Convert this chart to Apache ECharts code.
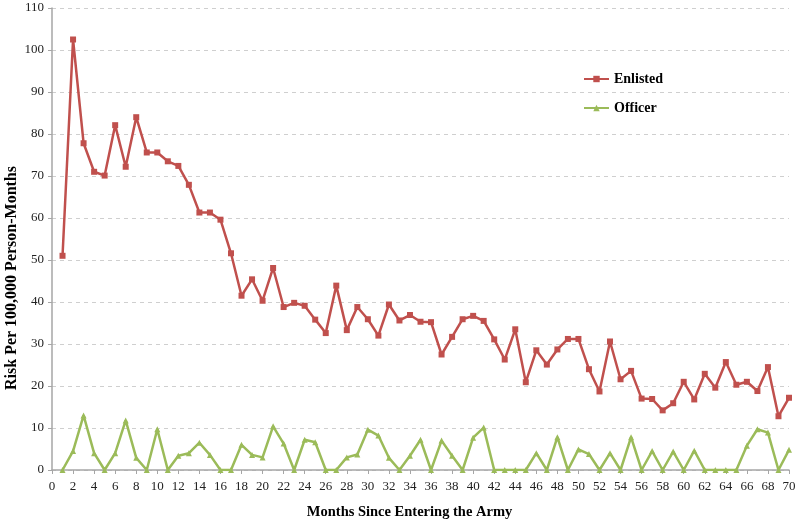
<!DOCTYPE html>
<html>
<head>
<meta charset="utf-8">
<script src="https://cdn.jsdelivr.net/npm/echarts@6/dist/echarts.min.js"></script>
<style>html,body{margin:0;padding:0;background:#fff;}#c{width:800px;height:526px;}</style>
</head>
<body>
<div id="c"></div>
<script>
var months = [];
for (var m = 1; m <= 70; m++) months.push(m);
var enlisted = [51, 102.5, 77.8, 71.0, 70.1, 82.1, 72.2, 84.0, 75.6, 75.6,
  73.5, 72.4, 67.9, 61.3, 61.3, 59.6, 51.6, 41.5, 45.4, 40.3,
  48.1, 38.8, 39.8, 39.1, 35.8, 32.6, 43.9, 33.3, 38.8, 35.9,
  32.0, 39.4, 35.6, 36.9, 35.3, 35.2, 27.5, 31.7, 35.9, 36.7,
  35.5, 31.1, 26.3, 33.5, 20.9, 28.5, 25.1, 28.7, 31.2, 31.2,
  24.0, 18.7, 30.6, 21.6, 23.6, 17.0, 16.9, 14.2, 15.9, 21.0,
  16.8, 22.9, 19.6, 25.7, 20.3, 21.0, 18.8, 24.5, 12.8, 17.2];
var officer = [0, 4.5, 13.0, 4.0, 0, 4.0, 11.8, 2.9, 0, 9.7,
  0, 3.4, 4.0, 6.5, 3.6, 0, 0, 6.0, 3.6, 3.0,
  10.4, 6.3, 0, 7.2, 6.6, 0, 0, 3.0, 3.7, 9.6,
  8.2, 2.9, 0, 3.4, 7.2, 0, 7.0, 3.4, 0, 7.7,
  10.1, 0, 0, 0, 0, 4.0, 0, 7.8, 0, 4.9,
  3.8, 0, 4.0, 0, 7.8, 0, 4.5, 0, 4.4, 0,
  4.6, 0, 0, 0, 0, 5.8, 9.7, 8.9, 0, 4.8];
var seriesNames = ['Enlisted', 'Officer'];
var xTitle = 'Months Since Entering the Army';
var yTitle = 'Risk Per 100,000 Person-Months';

function pairs(arr) { return months.map(function (m, i) { return [m, arr[i]]; }); }
var font = 'Liberation Serif, Times New Roman, serif';
var chart = echarts.init(document.getElementById('c'));
chart.setOption({
  animation: false,
  backgroundColor: '#fff',
  textStyle: { fontFamily: font },
  grid: { left: 52, right: 11, top: 8, bottom: 56, containLabel: false, outerBoundsMode: 'none' },
  legend: {
    orient: 'vertical', left: 578, top: 67, itemGap: 15, itemWidth: 25, itemHeight: 8,
    textStyle: { fontFamily: font, fontWeight: 'bold', fontSize: 14, color: '#000' },
    data: seriesNames
  },
  xAxis: {
    type: 'value', min: 0, max: 70, interval: 2,
    name: xTitle, nameLocation: 'middle', nameGap: 35, nameMoveOverlap: false,
    nameTextStyle: { fontFamily: font, fontWeight: 'bold', fontSize: 14.5, color: '#000', padding: [0, 22, 0, 0] },
    axisLine: { lineStyle: { color: '#a6a6a6', width: 1.5 } },
    axisTick: { show: true, length: 4, lineStyle: { color: '#a6a6a6' } },
    axisLabel: { fontFamily: font, fontSize: 13, color: '#222', margin: 10 },
    splitLine: { show: false }
  },
  yAxis: {
    type: 'value', min: 0, max: 110, interval: 10,
    name: yTitle, nameLocation: 'middle', nameGap: 32, nameMoveOverlap: false,
    nameTextStyle: { fontFamily: font, fontWeight: 'bold', fontSize: 16, color: '#000', padding: [0, 78, 0, 0] },
    axisLine: { show: true, lineStyle: { color: '#a6a6a6', width: 1.5 } },
    axisTick: { show: true, length: 4, lineStyle: { color: '#a6a6a6' } },
    axisLabel: { fontFamily: font, fontSize: 13, color: '#222', margin: 8 },
    splitLine: { show: true, lineStyle: { color: '#cfcfcf', type: [4, 4], width: 1 } }
  },
  series: [
    {
      name: seriesNames[0], type: 'line', data: pairs(enlisted),
      symbol: 'rect', symbolSize: 6,
      lineStyle: { color: '#C0504D', width: 2.5 },
      itemStyle: { color: '#C0504D' }
    },
    {
      name: seriesNames[1], type: 'line', data: pairs(officer),
      symbol: 'triangle', symbolSize: 6,
      lineStyle: { color: '#9BBB59', width: 2.5 },
      itemStyle: { color: '#9BBB59' }
    }
  ]
});
</script>
</body>
</html>
